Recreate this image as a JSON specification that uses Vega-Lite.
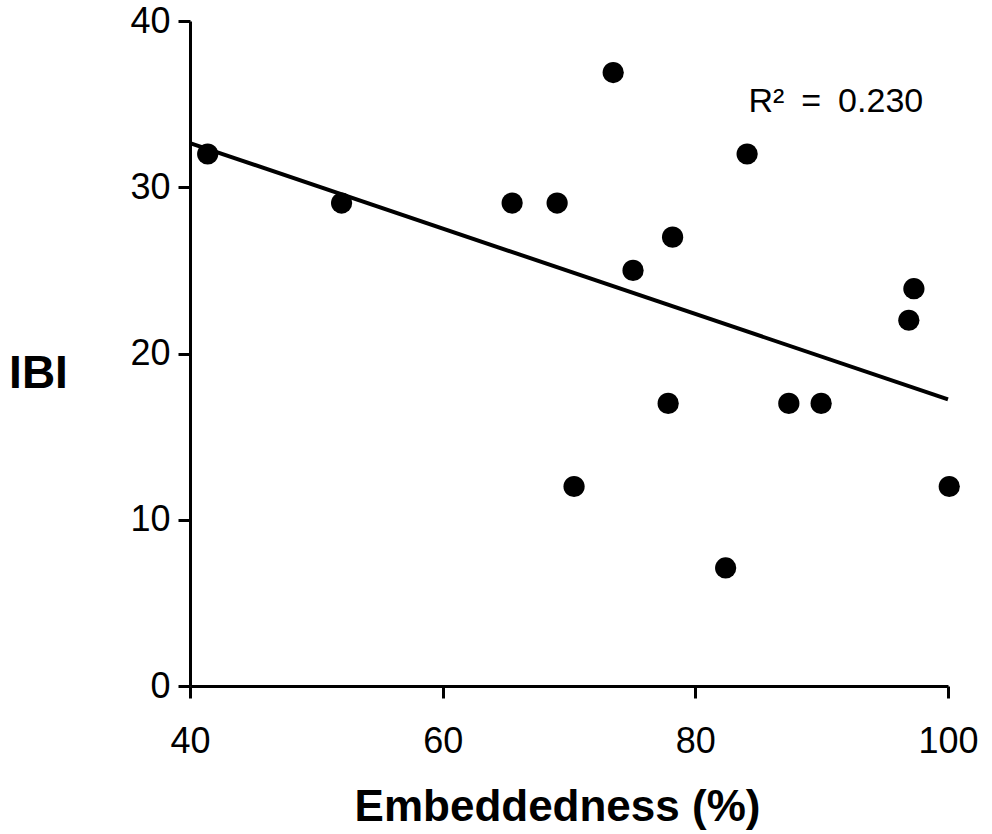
{
  "$schema": "https://vega.github.io/schema/vega-lite/v6.json",
  "width": 758,
  "height": 665,
  "autosize": "none",
  "padding": {"left": 190, "top": 21, "right": 44, "bottom": 148},
  "background": "white",
  "config": {"view": {"stroke": null}, "font": "Liberation Sans"},
  "datasets": {
    "points": [
      {"embeddedness": 41.4, "ibi": 32.0},
      {"embeddedness": 52.0, "ibi": 29.05},
      {"embeddedness": 65.5, "ibi": 29.05},
      {"embeddedness": 69.06, "ibi": 29.05},
      {"embeddedness": 73.5, "ibi": 36.9},
      {"embeddedness": 75.07, "ibi": 25.0},
      {"embeddedness": 78.2, "ibi": 27.0},
      {"embeddedness": 77.85, "ibi": 17.0},
      {"embeddedness": 70.4, "ibi": 12.0},
      {"embeddedness": 82.4, "ibi": 7.1},
      {"embeddedness": 84.1, "ibi": 32.0},
      {"embeddedness": 87.4, "ibi": 17.0},
      {"embeddedness": 89.96, "ibi": 17.0},
      {"embeddedness": 96.9, "ibi": 22.0},
      {"embeddedness": 97.3, "ibi": 23.9},
      {"embeddedness": 100.1, "ibi": 12.0}
    ],
    "note": [{"x": 84.2, "y": 35.1, "label": "R²\u2002=\u20020.230"}]
  },
  "layer": [
    {
      "data": {"name": "points"},
      "mark": {"type": "circle", "size": 450, "color": "black", "opacity": 1},
      "encoding": {
        "x": {
          "field": "embeddedness",
          "type": "quantitative",
          "scale": {"domain": [40, 100], "nice": false, "zero": false},
          "axis": {
            "title": "Embeddedness (%)",
            "values": [40, 60, 80, 100],
            "grid": false,
            "domainColor": "black",
            "domainWidth": 3,
            "tickColor": "black",
            "tickWidth": 3,
            "tickSize": 12,
            "labelFontSize": 36,
            "labelColor": "black",
            "labelPadding": 26,
            "labelFlush": false,
            "titleFontSize": 44,
            "titleFontWeight": "bold",
            "titleColor": "black",
            "titleX": 367,
            "titleY": 134,
            "titleBaseline": "alphabetic"
          }
        },
        "y": {
          "field": "ibi",
          "type": "quantitative",
          "scale": {"domain": [0, 40], "nice": false, "zero": false},
          "axis": {
            "title": "IBI",
            "values": [0, 10, 20, 30, 40],
            "grid": false,
            "domainColor": "black",
            "domainWidth": 3,
            "tickColor": "black",
            "tickWidth": 3,
            "tickSize": 12,
            "labelFontSize": 36,
            "labelColor": "black",
            "labelPadding": 8,
            "labelFlush": false,
            "titleFontSize": 46,
            "titleFontWeight": "bold",
            "titleColor": "black",
            "titleAngle": 0,
            "titleAlign": "center",
            "titleBaseline": "alphabetic",
            "titleX": -152,
            "titleY": 366
          }
        }
      }
    },
    {
      "data": {"name": "points"},
      "transform": [{"regression": "ibi", "on": "embeddedness", "extent": [40, 100]}],
      "mark": {"type": "line", "color": "black", "strokeWidth": 4},
      "encoding": {
        "x": {"field": "embeddedness", "type": "quantitative"},
        "y": {"field": "ibi", "type": "quantitative"}
      }
    },
    {
      "data": {"name": "note"},
      "mark": {"type": "text", "align": "left", "baseline": "middle", "fontSize": 34, "color": "black"},
      "encoding": {
        "x": {"field": "x", "type": "quantitative"},
        "y": {"field": "y", "type": "quantitative"},
        "text": {"field": "label"}
      }
    }
  ]
}
